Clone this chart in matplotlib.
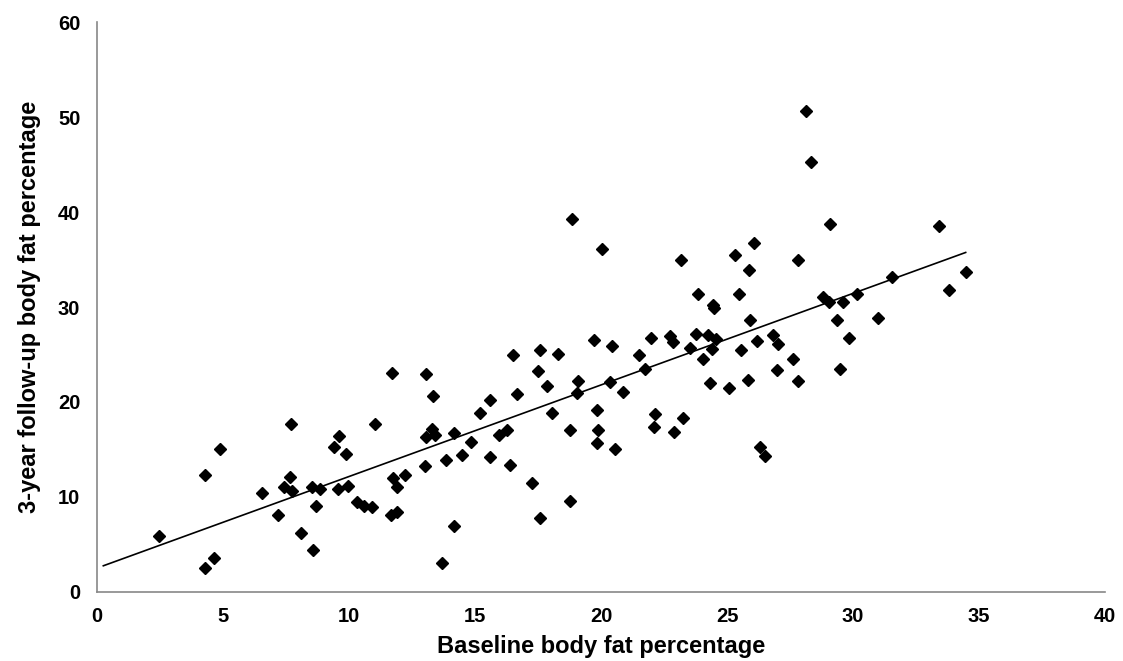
import numpy as np
import matplotlib
matplotlib.use("Agg")
import matplotlib.pyplot as plt

baseline = [2.46, 4.29, 4.29, 4.66, 4.88, 6.53, 7.2, 7.71, 7.66, 7.42, 7.74, 8.08, 8.56, 8.53, 8.67, 8.85,
            9.62, 9.42, 9.88, 9.55, 9.97, 10.33, 10.6, 10.91, 11.04, 11.69, 11.65, 11.89, 11.73, 11.92, 12.23,
            13.04, 13.35, 13.06, 13.28, 13.41, 13.03, 13.85, 14.17, 14.17, 13.7, 14.48, 14.84, 15.2, 15.61,
            15.61, 15.95, 16.28, 16.4, 16.5, 16.67, 17.27, 17.58, 17.58, 17.49, 17.86, 18.06, 18.31, 18.76,
            18.76, 19.09, 19.06, 19.73, 19.83, 19.87, 19.84, 18.86, 20.04, 23.17, 25.32, 26.07, 25.87, 27.83,
            23.83, 25.46, 24.46, 24.5, 25.91, 20.45, 20.36, 20.86, 20.56, 21.52, 21.73, 21.98, 22.74, 22.87,
            22.14, 22.11, 23.27, 22.91, 23.53, 23.77, 24.26, 24.55, 24.39, 24.06, 24.33, 25.09, 25.56, 26.18,
            25.82, 26.84, 27.04, 27.0, 27.6, 27.83, 26.31, 26.51, 28.13, 28.32, 29.09, 33.43, 28.82, 29.05,
            29.59, 30.17, 31.55, 34.47, 33.8, 29.35, 30.98, 29.85, 29.48]
followup = [5.9, 12.3, 2.5, 3.6, 15.1, 10.4, 8.1, 17.7, 12.1, 11.0, 10.6, 6.2, 4.4, 11.1, 9.1, 10.8,
            16.4, 15.3, 14.5, 10.8, 11.2, 9.5, 9.0, 8.9, 17.7, 23.0, 8.1, 8.4, 12.0, 11.0, 12.3,
            22.9, 20.6, 16.3, 17.2, 16.5, 13.3, 13.9, 16.7, 6.9, 3.1, 14.4, 15.8, 18.8, 20.2,
            14.2, 16.5, 17.1, 13.4, 24.9, 20.8, 11.5, 7.8, 25.5, 23.3, 21.7, 18.8, 25.1, 17.1,
            9.6, 22.2, 20.9, 26.5, 19.2, 17.1, 15.7, 39.3, 36.1, 34.9, 35.5, 36.7, 33.9, 34.9,
            31.4, 31.4, 30.2, 29.9, 28.6, 25.9, 22.1, 21.0, 15.1, 24.9, 23.5, 26.7, 26.9, 26.3,
            18.7, 17.4, 18.3, 16.8, 25.7, 27.2, 27.1, 26.6, 25.6, 24.5, 22.0, 21.5, 25.5, 26.4,
            22.3, 27.1, 26.1, 23.4, 24.5, 22.2, 15.3, 14.3, 50.6, 45.3, 38.7, 38.5, 31.1, 30.5,
            30.5, 31.4, 33.2, 33.7, 31.8, 28.6, 28.8, 26.7, 23.5]
trend_start = 0.25
x_ticks = [0, 5, 10, 15, 20, 25, 30, 35, 40]
y_ticks = [0, 10, 20, 30, 40, 50, 60]

plt.rcParams['font.family'] = ['Liberation Sans', 'DejaVu Sans']

fig = plt.figure(figsize=(11.23, 6.61), dpi=100)
ax = fig.add_axes([0.0864, 0.1044, 0.8976, 0.8623])

bx = np.array(baseline)
fy = np.array(followup)
slope, intercept = np.polyfit(bx, fy, 1)
lx = np.array([trend_start, bx.max()])
ax.plot(lx, slope * lx + intercept, color='black', lw=1.2, zorder=2)
ax.plot(bx, fy, linestyle='none', marker='D', ms=5.8, color='black', zorder=3)

ax.set_xlim(0, 40)
ax.set_ylim(0, 60)
ax.set_xticks(x_ticks)
ax.set_yticks(y_ticks)
ax.tick_params(axis='x', length=0, labelsize=14.5, pad=11)
ax.tick_params(axis='y', length=0, labelsize=14.5, pad=12)
for lab in ax.get_xticklabels() + ax.get_yticklabels():
    lab.set_fontweight('bold')
for s in ['top', 'right']:
    ax.spines[s].set_visible(False)
for s in ['left', 'bottom']:
    ax.spines[s].set_color('#888888')
    ax.spines[s].set_linewidth(1.2)

ax.set_xlabel('Baseline body fat percentage', fontsize=17, fontweight='bold', labelpad=6)
ax.set_ylabel('3-year follow-up body fat percentage', fontsize=17, fontweight='bold', labelpad=12)

fig.savefig('out.png', dpi=100)
